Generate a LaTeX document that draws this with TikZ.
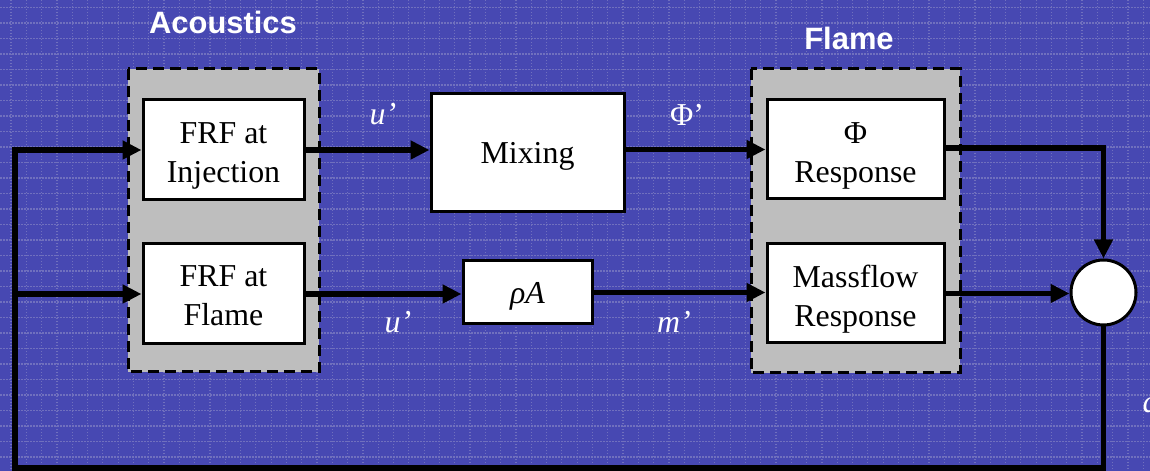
\documentclass[tikz,border=0pt]{standalone}
\usepackage{fontspec}
\setmainfont{Liberation Serif}
\newfontfamily\labsans{Liberation Sans}
\usetikzlibrary{arrows.meta,calc}
\definecolor{bgblue}{RGB}{71,72,178}
\definecolor{gridc}{RGB}{112,112,190}
\definecolor{grpgray}{RGB}{190,190,190}
\newcommand{\lowerby}[2]{\raisebox{-#1}[\height][\depth]{#2}}
\tikzset{
  blockbox/.style={draw=black, line width=3bp, fill=white, inner sep=0pt, align=center,
    font=\rmfamily\fontsize{32}{39}\selectfont},
  groupbox/.style={draw=black, line width=3bp, fill=grpgray, dash pattern=on 11bp off 6bp},
  conn/.style={line width=5.5bp, draw=black},
  arr/.style={conn, -{Triangle[length=19bp,width=18bp]}},
  siglabel/.style={text=white, anchor=base, font=\rmfamily\fontsize{32}{36}\selectfont\itshape},
  grouplabel/.style={text=white, font=\labsans\bfseries\fontsize{31}{36}\selectfont},
}
\begin{document}
\begin{tikzpicture}[x=1bp,y=-1bp]
\useasboundingbox (0,0) rectangle (1150,471);
\clip (0,0) rectangle (1150,471);
\fill[bgblue] (0,0) rectangle (1150,471);
% dotted grid
\foreach \i in {0,...,75} \draw[gridc, line width=1.2bp, dash pattern=on 1.5bp off 1.5bp] ({11+15.3*\i},0) -- ++(0,471);
\foreach \j in {0,...,30} \draw[gridc, line width=1.2bp, dash pattern=on 1.5bp off 1.5bp] (0,{7.5+15.5*\j}) -- ++(1150,0);

% group boxes
\draw[groupbox] (128,69) rectangle (319,372);
\draw[groupbox] (751,69) rectangle (960,373);
\node[grouplabel] (acl) at (223,22) {Acoustics};
\node[grouplabel] (fll) at (849,38) {Flame};

% blocks
\node[blockbox, minimum width=161bp, minimum height=100bp] (inj) at (223.5,150) {\lowerby{5bp}{\begin{tabular}{@{}c@{}}FRF at\\Injection\end{tabular}}};
\node[blockbox, minimum width=161bp, minimum height=100bp] (flm) at (223.5,294) {\lowerby{4bp}{\begin{tabular}{@{}c@{}}FRF at\\Flame\end{tabular}}};
\node[blockbox, minimum width=193bp, minimum height=118bp] (mix) at (527.5,153) {\lowerby{3bp}{Mixing}};
\node[blockbox, minimum width=129bp, minimum height=63bp] (rho) at (527.5,292.5) {\lowerby{4bp}{\textit{ρA}}};
\node[blockbox, minimum width=177bp, minimum height=99bp] (phir) at (855.5,149.5) {\lowerby{6bp}{\begin{tabular}{@{}c@{}}Φ\\Response\end{tabular}}};
\node[blockbox, minimum width=177bp, minimum height=99bp] (massr) at (855.5,293.5) {\lowerby{6bp}{\begin{tabular}{@{}c@{}}Massflow\\Response\end{tabular}}};
\node[draw=black, line width=3bp, fill=white, circle, minimum size=65bp, inner sep=0pt] (sum) at (1103.5,292.5) {};

% coordinates for the feedback loop
\coordinate (cR) at (1103.5,468);
\coordinate (cL) at (15,468);
\coordinate (cT) at (15,150);
\coordinate (cM) at (15,294);
\coordinate (cU) at (1103.5,148);

% connectors
\draw[arr] (sum.south) -- (cR) -- (cL) -- (cT) -- (inj.west);
\draw[arr] (cM) -- (flm.west);
\draw[arr] (inj.east) -- (mix.west |- inj.east);
\draw[arr] (mix.east |- phir.west) -- (phir.west);
\draw[arr] (flm.east) -- (rho.west |- flm.east);
\draw[arr] (rho.east) -- (massr.west |- rho.east);
\draw[arr] (massr.east) -- (sum.west |- massr.east);
\draw[arr] (phir.east |- cU) -- (cU) -- (sum.north);

% signal labels
\node[siglabel] (lu1) at (383,125) {u’};
\node[siglabel, font=\rmfamily\fontsize{32}{36}\selectfont] (lphi) at (687,126) {Φ’};
\node[siglabel] (lu2) at (398,333) {u’};
\node[siglabel] (lm) at (674,333) {m’};
\node[siglabel, anchor=base west] (lq) at (1139,413) {q’};
\end{tikzpicture}
\end{document}
